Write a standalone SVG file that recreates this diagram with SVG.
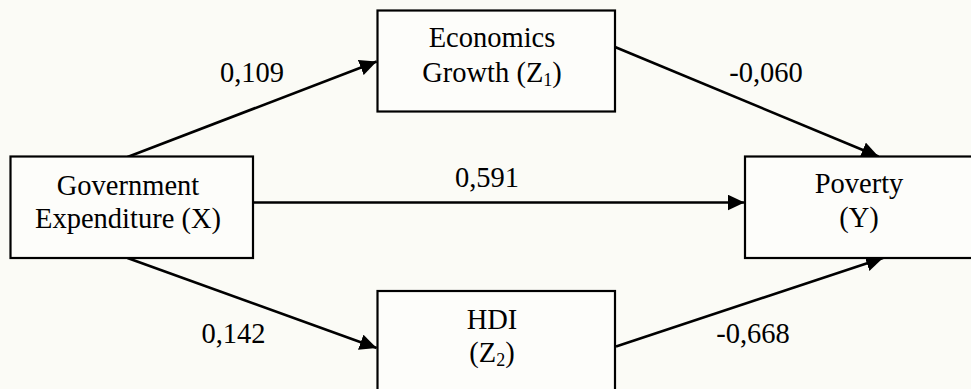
<svg xmlns="http://www.w3.org/2000/svg" width="971" height="389" viewBox="0 0 971 389">
<style>
.box{fill:#fdfdfa;stroke:#000;stroke-width:2.2}
.c{fill:none;stroke:#000;stroke-width:2.6}
</style>
<defs>
<marker id="ah" markerUnits="userSpaceOnUse" markerWidth="18" markerHeight="16" viewBox="0 0 18 16" refX="17" refY="8" orient="auto">
<path d="M0,0 L17,8 L0,16 Z" fill="#000"/>
</marker>
</defs>
<rect width="971" height="389" fill="#fbfbf6"/>
<g id="connectors">
<line class="c" x1="127.5" y1="157" x2="376.7" y2="61.5" marker-end="url(#ah)"/>
<line class="c" x1="615" y1="47" x2="878.5" y2="156.5" marker-end="url(#ah)"/>
<line class="c" x1="248" y1="202.5" x2="744.5" y2="202.5" marker-end="url(#ah)"/>
<line class="c" x1="127.5" y1="258" x2="376.7" y2="348" marker-end="url(#ah)"/>
<line class="c" x1="616" y1="346.5" x2="883" y2="258" marker-end="url(#ah)"/>
</g>
<g font-family="Liberation Serif" font-size="28.5" fill="#000" text-anchor="middle">
<g id="labels">
<text x="252" y="81.7">0,109</text>
<text x="766" y="81.7">-0,060</text>
<text x="487" y="186.7">0,591</text>
<text x="233.5" y="343">0,142</text>
<text x="753" y="343">-0,668</text>
</g>
<g id="gov">
<rect class="box" x="10.5" y="156.5" width="242.5" height="101.5"/>
<text x="128" y="195">Government</text>
<text x="128" y="227.5">Expenditure (X)</text>
</g>
<g id="econ">
<rect class="box" x="377.5" y="10.5" width="237.5" height="101"/>
<text x="492" y="46.7">Economics</text>
<text x="492" y="81.7">Growth (Z<tspan font-size="18" dy="4">1</tspan><tspan dy="-4">)</tspan></text>
</g>
<g id="poverty">
<rect class="box" x="745" y="156.5" width="240" height="101.5"/>
<text x="859" y="193.3">Poverty</text>
<text x="859" y="226.7">(Y)</text>
</g>
<g id="hdi">
<rect class="box" x="377.5" y="291" width="237.5" height="110"/>
<text x="492" y="329.3">HDI</text>
<text x="492" y="361.7">(Z<tspan font-size="18" dy="4">2</tspan><tspan dy="-4">)</tspan></text>
</g>
</g>
</svg>
